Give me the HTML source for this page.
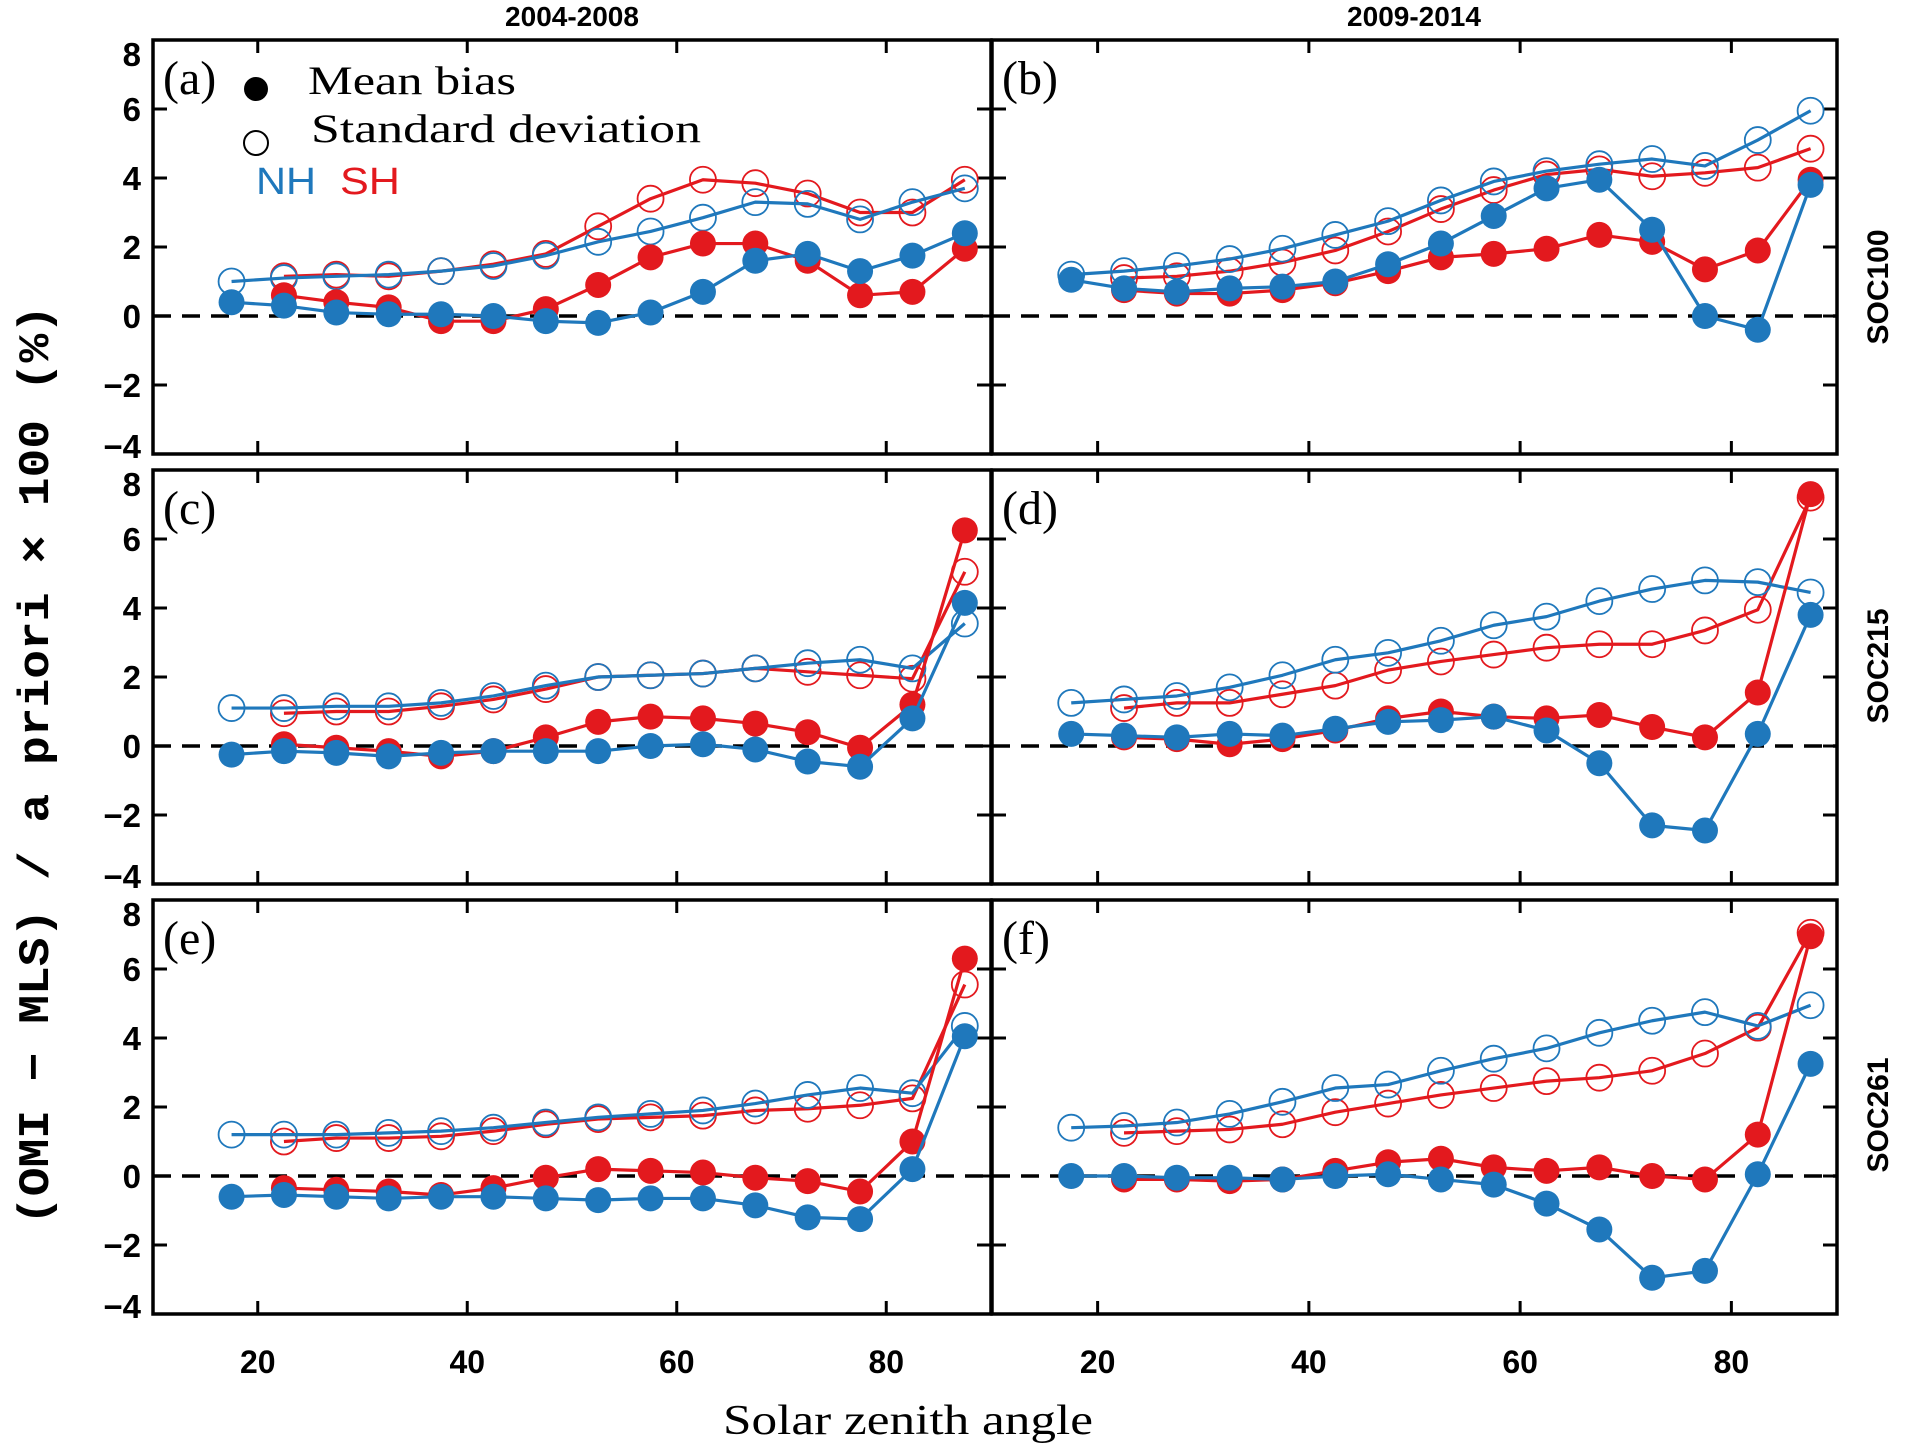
<!DOCTYPE html>
<html><head><meta charset="utf-8"><style>
html,body{margin:0;padding:0;background:#fff}
svg{display:block}
</style></head><body>
<svg id="chart" width="1912" height="1449" viewBox="0 0 1912 1449" xmlns="http://www.w3.org/2000/svg">
<rect x="0" y="0" width="1912" height="1449" fill="#fff"/>
<g id="g"></g>
</svg>
<script>
const xCats = [17.5,22.5,27.5,32.5,37.5,42.5,47.5,52.5,57.5,62.5,67.5,72.5,77.5,82.5,87.5];
const xTicks = [20,40,60,80];
const yTicks = [-4,-2,0,2,4,6,8];
const panelLabels = ["(a)","(b)","(c)","(d)","(e)","(f)"];
// NH starts at 17.5, SH starts at 22.5
const nhMeanA = [0.4,0.3,0.1,0.05,0.05,0.0,-0.15,-0.2,0.1,0.7,1.6,1.8,1.3,1.75,2.4];
const shMeanA = [0.6,0.4,0.25,-0.15,-0.15,0.2,0.9,1.7,2.1,2.1,1.6,0.6,0.7,1.95];
const nhStdA  = [1.0,1.1,1.15,1.2,1.3,1.45,1.75,2.15,2.45,2.85,3.3,3.25,2.8,3.3,3.7];
const shStdA  = [1.15,1.2,1.15,1.3,1.5,1.8,2.6,3.4,3.95,3.85,3.55,3.0,3.0,3.95];
const nhMeanB = [1.05,0.8,0.7,0.8,0.85,1.0,1.5,2.1,2.9,3.7,3.95,2.5,0.0,-0.4,3.8];
const shMeanB = [0.75,0.65,0.65,0.75,0.95,1.3,1.7,1.8,1.95,2.35,2.15,1.35,1.9,3.95];
const nhStdB  = [1.2,1.3,1.45,1.65,1.95,2.35,2.75,3.35,3.9,4.2,4.4,4.55,4.35,5.1,5.95];
const shStdB  = [1.1,1.15,1.3,1.55,1.9,2.45,3.1,3.65,4.1,4.25,4.05,4.15,4.3,4.85];
const nhMeanC = [-0.25,-0.15,-0.2,-0.3,-0.2,-0.15,-0.15,-0.15,0.0,0.05,-0.1,-0.45,-0.6,0.8,4.15];
const shMeanC = [0.05,-0.05,-0.15,-0.3,-0.15,0.25,0.7,0.85,0.8,0.65,0.4,-0.05,1.2,6.25];
const nhStdC  = [1.1,1.1,1.15,1.15,1.25,1.45,1.75,2.0,2.05,2.1,2.25,2.4,2.5,2.25,3.55];
const shStdC  = [0.95,1.0,1.0,1.15,1.35,1.65,2.0,2.05,2.1,2.25,2.15,2.05,1.95,5.05];
const nhMeanD = [0.35,0.3,0.25,0.35,0.3,0.5,0.7,0.75,0.85,0.45,-0.5,-2.3,-2.45,0.35,3.8];
const shMeanD = [0.25,0.2,0.05,0.2,0.45,0.8,1.0,0.85,0.8,0.9,0.55,0.25,1.55,7.3];
const nhStdD  = [1.25,1.35,1.45,1.7,2.05,2.5,2.7,3.05,3.5,3.75,4.2,4.55,4.8,4.75,4.45];
const shStdD  = [1.1,1.25,1.25,1.5,1.75,2.2,2.45,2.65,2.85,2.95,2.95,3.35,3.95,7.2];
const nhMeanE = [-0.6,-0.55,-0.6,-0.65,-0.6,-0.6,-0.65,-0.7,-0.65,-0.65,-0.85,-1.2,-1.25,0.2,4.05];
const shMeanE = [-0.35,-0.4,-0.45,-0.55,-0.35,-0.05,0.2,0.15,0.1,-0.05,-0.15,-0.45,1.0,6.3];
const nhStdE  = [1.2,1.2,1.2,1.25,1.3,1.4,1.55,1.7,1.8,1.9,2.1,2.35,2.55,2.4,4.35];
const shStdE  = [1.0,1.1,1.1,1.15,1.3,1.5,1.65,1.7,1.75,1.9,1.95,2.05,2.25,5.55];
const nhMeanF = [0.0,0.0,-0.05,-0.05,-0.1,0.0,0.05,-0.1,-0.25,-0.8,-1.55,-2.95,-2.75,0.05,3.25];
const shMeanF = [-0.1,-0.1,-0.15,-0.1,0.15,0.4,0.5,0.25,0.15,0.25,0.0,-0.1,1.2,6.95];
const nhStdF  = [1.4,1.45,1.55,1.8,2.15,2.55,2.65,3.05,3.4,3.7,4.15,4.5,4.75,4.35,4.95];
const shStdF  = [1.25,1.3,1.35,1.5,1.85,2.1,2.35,2.55,2.75,2.85,3.05,3.55,4.3,7.05];

const panels = [
 {nhM:nhMeanA,shM:shMeanA,nhS:nhStdA,shS:shStdA},
 {nhM:nhMeanB,shM:shMeanB,nhS:nhStdB,shS:shStdB},
 {nhM:nhMeanC,shM:shMeanC,nhS:nhStdC,shS:shStdC},
 {nhM:nhMeanD,shM:shMeanD,nhS:nhStdD,shS:shStdD},
 {nhM:nhMeanE,shM:shMeanE,nhS:nhStdE,shS:shStdE},
 {nhM:nhMeanF,shM:shMeanF,nhS:nhStdF,shS:shStdF}
];
const BLUE="#1f78bc", RED="#e3191e";
const NS="http://www.w3.org/2000/svg";
const root=document.getElementById('g');
function mk(tag,attrs,parent,text){const e=document.createElementNS(NS,tag);for(const k in attrs)e.setAttribute(k,attrs[k]);if(text!==undefined)e.textContent=text;(parent||root).appendChild(e);return e;}

const colX=[[153,991],[992,1837]];
const rowY=[[40,454],[470,884],[900,1314]];
const XMIN=10,XMAX=90,YMIN=-4,YMAX=8;

panels.forEach((p,i)=>{
  const c=i%2,r=Math.floor(i/2);
  const [x0,x1]=colX[c],[y0,y1]=rowY[r];
  const sx=v=>x0+(v-XMIN)/(XMAX-XMIN)*(x1-x0);
  const sy=v=>y1-(v-YMIN)/(YMAX-YMIN)*(y1-y0);
  const g=mk('g',{});
  
  
  const z=mk('line',{x1:x0,x2:x1,y1:sy(0),y2:sy(0),stroke:'#000','stroke-width':3.5,'stroke-dasharray':'18 11'},g);
  
  
  xTicks.forEach(t=>{
    const a=mk('line',{x1:sx(t),x2:sx(t),y1:y1,y2:y1-13,stroke:'#000','stroke-width':3},g);
    
    
    mk('line',{x1:sx(t),x2:sx(t),y1:y0,y2:y0+13,stroke:'#000','stroke-width':3},g);
    if(r===2){
      const tl=mk('text',{x:sx(t),y:y1+59,'text-anchor':'middle','font-family':'Liberation Sans, sans-serif','font-weight':'bold','font-size':32},g,String(t));
      
      
    }
  });
  yTicks.forEach(t=>{
    const a=mk('line',{x1:x0,x2:x0+14,y1:sy(t),y2:sy(t),stroke:'#000','stroke-width':3},g);
    
    
    mk('line',{x1:x1,x2:x1-14,y1:sy(t),y2:sy(t),stroke:'#000','stroke-width':3},g);
    if(c===0){
      const off = t===8 ? 14 : (t===-4 ? -8 : 0);
      const tl=mk('text',{x:x0-12,y:sy(t)+12+off,'text-anchor':'end','font-family':'Liberation Sans, sans-serif','font-weight':'bold','font-size':33},g,String(t).replace('-','\u2212'));
      
      
    }
  });
  const line=(vals,off,col,name)=>{
    const pts=vals.map((v,k)=>sx(xCats[k+off])+','+sy(v)).join(' ');
    const l=mk('polyline',{points:pts,fill:'none',stroke:col,'stroke-width':3.2,'stroke-linejoin':'round'},g);
    
    
  };
  const marks=(vals,off,col,filled,name)=>{
    vals.forEach((v,k)=>{
      const m=mk('circle',{cx:sx(xCats[k+off]),cy:sy(v),r:13,fill:filled?col:'none',stroke:col,'stroke-width':filled?0:1.8},g);
      
      
    });
  };
  line(p.shS,1,RED,'sh-std-line'); marks(p.shS,1,RED,false,'sh-std-point');
  line(p.nhS,0,BLUE,'nh-std-line'); marks(p.nhS,0,BLUE,false,'nh-std-point');
  line(p.shM,1,RED,'sh-mean-line'); marks(p.shM,1,RED,true,'sh-mean-point');
  line(p.nhM,0,BLUE,'nh-mean-line'); marks(p.nhM,0,BLUE,true,'nh-mean-point');
  const f=mk('rect',{x:x0,y:y0,width:x1-x0,height:y1-y0,fill:'none',stroke:'#000','stroke-width':3.5},g);
  
  
  const pl=mk('text',{x:x0+10,y:y0+54,'font-family':'Liberation Serif, serif','font-size':48},g,panelLabels[i]);
  
  
});
</script>
<svg style="position:absolute;left:0;top:0" width="1912" height="1449" viewBox="0 0 1912 1449" xmlns="http://www.w3.org/2000/svg">
  <text x="572" y="26" text-anchor="middle" font-family="Liberation Sans, sans-serif" font-weight="bold" font-size="28">2004-2008</text>
  <text x="1414" y="26" text-anchor="middle" font-family="Liberation Sans, sans-serif" font-weight="bold" font-size="28">2009-2014</text>
  <g>
    <circle cx="256" cy="89" r="12" fill="#000"/>
    <text x="308" y="94" font-family="Liberation Serif, serif" font-size="40" textLength="208" lengthAdjust="spacingAndGlyphs">Mean bias</text>
    <circle cx="256" cy="143" r="12" fill="none" stroke="#000" stroke-width="2"/>
    <text x="311" y="142" font-family="Liberation Serif, serif" font-size="40" textLength="390" lengthAdjust="spacingAndGlyphs">Standard deviation</text>
    <text x="256" y="194" font-family="Liberation Sans, sans-serif" font-size="38" fill="#1f78bc" textLength="60" lengthAdjust="spacingAndGlyphs">NH</text>
    <text x="340" y="194" font-family="Liberation Sans, sans-serif" font-size="38" fill="#e3191e" textLength="60" lengthAdjust="spacingAndGlyphs">SH</text>
  </g>
  <text transform="translate(1888,287) rotate(-90)" text-anchor="middle" font-family="Liberation Sans, sans-serif" font-weight="bold" font-size="30">SOC100</text>
  <text transform="translate(1888,666) rotate(-90)" text-anchor="middle" font-family="Liberation Sans, sans-serif" font-weight="bold" font-size="30">SOC215</text>
  <text transform="translate(1888,1115) rotate(-90)" text-anchor="middle" font-family="Liberation Sans, sans-serif" font-weight="bold" font-size="30">SOC261</text>
  <text transform="translate(48,765) rotate(-90)" text-anchor="middle" font-family="Liberation Mono, monospace" font-weight="bold" font-size="44" textLength="920" lengthAdjust="spacingAndGlyphs">(OMI − MLS) / a priori × 100 (%)</text>
  <text x="908" y="1434" text-anchor="middle" font-family="Liberation Serif, serif" font-size="42" textLength="370" lengthAdjust="spacingAndGlyphs">Solar zenith angle</text>
</svg>
</body></html>
